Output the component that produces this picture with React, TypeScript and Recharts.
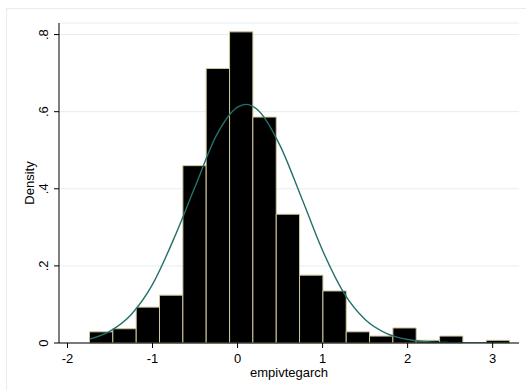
import { ComposedChart, Line, XAxis, YAxis, CartesianGrid, ReferenceArea, Label } from 'recharts'

// histogram bins (density)
const binEdges = [-1.741, -1.467, -1.192, -0.918, -0.643, -0.369, -0.094, 0.18, 0.455, 0.729, 1.004, 1.278, 1.552, 1.827, 2.101, 2.376, 2.65, 2.925, 3.199]
const binDensity = [0.029, 0.037, 0.093, 0.124, 0.46, 0.712, 0.807, 0.586, 0.334, 0.176, 0.135, 0.029, 0.018, 0.039, 0.007, 0.018, 0, 0.007]

// normal density overlay
const curveX = [-1.74, -1.5, -1.25, -1.0, -0.75, -0.5, -0.25, 0.0, 0.1, 0.25, 0.5, 0.75, 1.0, 1.25, 1.5, 1.75, 2.0, 2.25, 2.5, 2.75, 3.0, 3.2]
const curveY = [0.01, 0.031, 0.074, 0.152, 0.27, 0.405, 0.538, 0.612, 0.619, 0.602, 0.512, 0.378, 0.24, 0.13, 0.061, 0.025, 0.009, 0.003, 0.001, 0.0002, 0, 0]

const xTicks = [-2, -1, 0, 1, 2, 3]
const yTicks = [0, 0.2, 0.4, 0.6, 0.8]

const font = '"Liberation Sans", Arial, sans-serif'

const curveData = curveX.map((x, i) => ({ x, y: curveY[i] }))

function fmtY(v: number) {
  return v === 0 ? '0' : String(v).replace(/^0/, '')
}

function XTick({ x, payload }: any) {
  return (
    <text x={x} y={363.3} textAnchor="middle" fontSize={13} fontFamily={font} fill="#000">
      {payload.value}
    </text>
  )
}

function YTick({ y, payload }: any) {
  return (
    <text x={48.3} y={y} transform={`rotate(-90 48.3 ${y})`} textAnchor="middle" fontSize={13} fontFamily={font} fill="#000">
      {fmtY(payload.value)}
    </text>
  )
}

export default function App() {
  return (
    <div style={{ position: 'absolute', left: 0, top: 0, width: 526, height: 390, background: '#fff' }}>
      <div style={{ position: 'absolute', left: 6, top: 8, width: 540, height: 400, border: '1px solid #e6edf0' }} />
      <div style={{ position: 'absolute', left: 0, top: 0 }}>
        <ComposedChart width={526} height={390} data={curveData} margin={{ top: 23, right: 7, left: 0, bottom: 0 }}>
          <CartesianGrid vertical={false} stroke="#e4eef0" />
          <XAxis
            dataKey="x"
            type="number"
            domain={[-2.1, 3.31]}
            ticks={xTicks}
            allowDataOverflow
            height={47}
            tickSize={5}
            stroke="#000"
            tickLine={{ stroke: '#000' }}
            tick={<XTick />}
          >
            <Label
              content={() => (
                <text x={289} y={376.5} textAnchor="middle" fontSize={13} fontFamily={font} fill="#000">
                  empivtegarch
                </text>
              )}
            />
          </XAxis>
          <YAxis
            type="number"
            domain={[0, 0.83]}
            ticks={yTicks}
            allowDataOverflow
            width={59}
            tickSize={5}
            stroke="#000"
            tickLine={{ stroke: '#000' }}
            tick={<YTick />}
          >
            <Label
              content={() => (
                <text x={33.8} y={183} transform="rotate(-90 33.8 183)" textAnchor="middle" fontSize={13} fontFamily={font} fill="#000">
                  Density
                </text>
              )}
            />
          </YAxis>
          {binDensity.map((d, i) =>
            d > 0 ? (
              <ReferenceArea
                key={i}
                x1={binEdges[i]}
                x2={binEdges[i + 1]}
                y1={0}
                y2={d}
                fill="#000"
                fillOpacity={1}
                stroke="#cfc79c"
                strokeWidth={1}
                strokeOpacity={1}
              />
            ) : null
          )}
          <Line
            type="monotone"
            dataKey="y"
            stroke="#24706a"
            strokeWidth={1.4}
            dot={false}
            isAnimationActive={false}
          />
        </ComposedChart>
      </div>
    </div>
  )
}
